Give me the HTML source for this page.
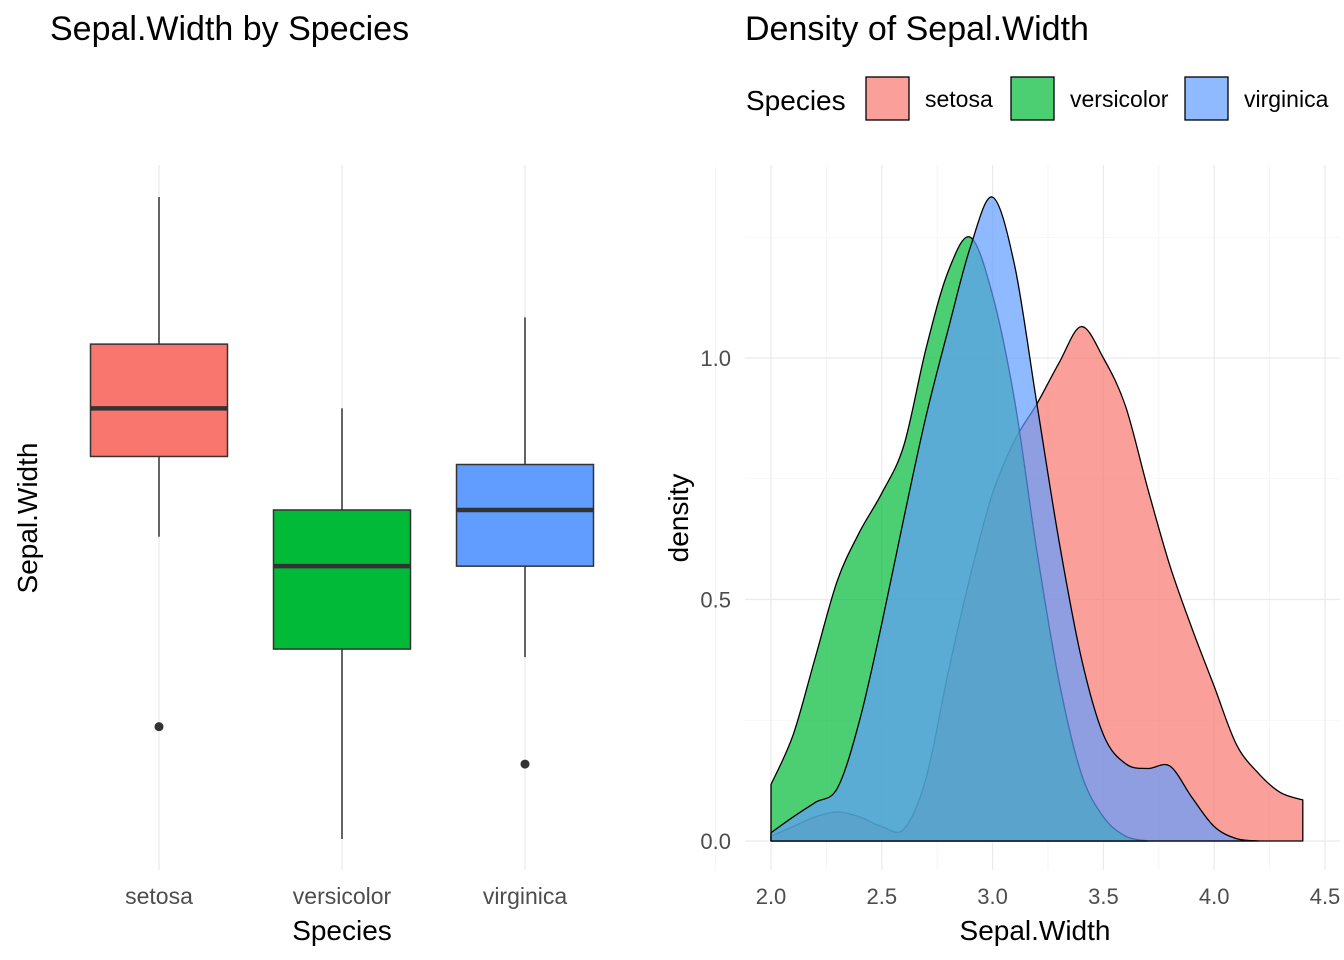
<!DOCTYPE html>
<html><head><meta charset="utf-8"><style>
html,body{margin:0;padding:0;background:#fff;}
svg{display:block;font-family:"Liberation Sans",sans-serif;}
</style></head><body>
<svg id="c" width="1344" height="960"></svg>
<script>
const species = ["setosa","versicolor","virginica"];
const colors = ["#F8766D","#00BA38","#619CFF"];
const whiskerLow = [3.13, 2.0, 2.68];
const q1 = [3.43, 2.71, 3.02];
const medians = [3.61, 3.02, 3.23];
const q3 = [3.85, 3.23, 3.40];
const whiskerHigh = [4.4, 3.61, 3.95];
const outliers = [[2.42],[],[2.28]];
const densX = [2.0,2.1,2.2,2.3,2.4,2.5,2.6,2.7,2.8,2.9,3.0,3.1,3.2,3.3,3.4,3.5,3.6,3.7,3.8,3.9,4.0,4.1,4.2,4.3,4.4];
const densSetosa = [0.01,0.03,0.05,0.06,0.05,0.03,0.025,0.13,0.35,0.55,0.72,0.83,0.905,0.99,1.065,1.0,0.9,0.73,0.57,0.44,0.32,0.2,0.14,0.1,0.085];
const densVersicolor = [0.117,0.22,0.38,0.54,0.64,0.72,0.82,1.02,1.18,1.25,1.13,0.91,0.6,0.33,0.14,0.05,0.01,0,0,0,0,0,0,0,0];
const densVirginica = [0.017,0.05,0.08,0.11,0.25,0.45,0.67,0.88,1.06,1.23,1.333,1.19,0.905,0.62,0.38,0.22,0.16,0.15,0.155,0.09,0.03,0.005,0,0,0];
const xTicks = [2.0,2.5,3.0,3.5,4.0,4.5];
const yTicks = [0.0,0.5,1.0];

const svg = document.getElementById('c');
const NS = "http://www.w3.org/2000/svg";
function mk(tag, attrs, parent, text){
  const e = document.createElementNS(NS, tag);
  for (const k in attrs) e.setAttribute(k, attrs[k]);
  if (text !== undefined) e.textContent = text;
  (parent||svg).appendChild(e); return e;
}
const ly = v => 839 - (v - 2.0) * 267.5;
const lx = i => 159 + i * 183;
for (let i=0;i<3;i++){
  const g = mk('line',{x1:lx(i),x2:lx(i),y1:165,y2:870,stroke:'#ebebeb','stroke-width':1.3});
  
  
}
let t = mk('text',{x:50,y:40,'font-size':34,fill:'#000'},svg,'Sepal.Width by Species');


for (let i=0;i<3;i++){
  const g = mk('g',{});
  
  
  const cx = lx(i);
  mk('line',{x1:cx,x2:cx,y1:ly(whiskerHigh[i]),y2:ly(q3[i]),stroke:'#333','stroke-width':1.5},g);
  mk('line',{x1:cx,x2:cx,y1:ly(q1[i]),y2:ly(whiskerLow[i]),stroke:'#333','stroke-width':1.5},g);
  mk('rect',{x:cx-68.5,y:ly(q3[i]),width:137,height:ly(q1[i])-ly(q3[i]),fill:colors[i],stroke:'#333','stroke-width':1.5},g);
  mk('line',{x1:cx-68.5,x2:cx+68.5,y1:ly(medians[i]),y2:ly(medians[i]),stroke:'#333','stroke-width':4.5},g);
  outliers[i].forEach(o=>mk('circle',{cx:cx,cy:ly(o),r:4.5,fill:'#333'},g));
  const l = mk('text',{x:cx,y:904,'text-anchor':'middle','font-size':23,fill:'#4d4d4d'},svg,species[i]);
  
  
}
t = mk('text',{x:342,y:940,'text-anchor':'middle','font-size':28},svg,'Species');


t = mk('text',{x:37,y:518,'text-anchor':'middle','font-size':28,transform:'rotate(-90 37 518)'},svg,'Sepal.Width');



const rx = v => 771 + (v - 2.0) * 221.6;
const ry = v => 841 - v * 483;
for (let k=7; k<=18; k++){
  const v = k*0.25;
  const major = k%2===0;
  const g = mk('line',{x1:rx(v),x2:rx(v),y1:165,y2:870,stroke:major?'#ebebeb':'#f3f3f3','stroke-width':major?1.3:0.8});
  
  
}
for (let k=0; k<=5; k++){
  const v = k*0.25;
  const major = k%2===0;
  const g = mk('line',{x1:745,x2:1340,y1:ry(v),y2:ry(v),stroke:major?'#ebebeb':'#f3f3f3','stroke-width':major?1.3:0.8});
  
  
}
t = mk('text',{x:745,y:40,'font-size':34},svg,'Density of Sepal.Width');


const series = [densSetosa, densVersicolor, densVirginica];
series.forEach((ys, si)=>{
  let last = ys.length-1;
  while (last>0 && ys[last]===0 && ys[last-1]===0) last--;
  const pts = [];
  for (let i=0;i<=last;i++) pts.push([rx(densX[i]), ry(ys[i])]);
  let d = 'M'+pts[0][0]+','+ry(0)+' L'+pts[0][0].toFixed(1)+','+pts[0][1].toFixed(1);
  for (let i=0;i<pts.length-1;i++){
    const p0 = pts[Math.max(0,i-1)], p1 = pts[i], p2 = pts[i+1], p3 = pts[Math.min(pts.length-1,i+2)];
    const c1x = p1[0]+(p2[0]-p0[0])/6, c1y = Math.min(ry(0), p1[1]+(p2[1]-p0[1])/6);
    const c2x = p2[0]-(p3[0]-p1[0])/6, c2y = Math.min(ry(0), p2[1]-(p3[1]-p1[1])/6);
    d += ' C'+c1x.toFixed(1)+','+c1y.toFixed(1)+' '+c2x.toFixed(1)+','+c2y.toFixed(1)+' '+p2[0].toFixed(1)+','+p2[1].toFixed(1);
  }
  d += ' L'+pts[pts.length-1][0].toFixed(1)+','+ry(0)+' Z';
  const p = mk('path',{d:d,fill:colors[si],'fill-opacity':0.7,stroke:'#000','stroke-width':1.3,'stroke-linejoin':'round'});
  
  
});
xTicks.forEach(v=>{
  const l = mk('text',{x:rx(v),y:904,'text-anchor':'middle','font-size':22,fill:'#4d4d4d'},svg,v.toFixed(1));
  
  
});
yTicks.forEach(v=>{
  const l = mk('text',{x:731,y:ry(v)+8,'text-anchor':'end','font-size':22,fill:'#4d4d4d'},svg,v.toFixed(1));
  
  
});
t = mk('text',{x:1035,y:940,'text-anchor':'middle','font-size':28},svg,'Sepal.Width');


t = mk('text',{x:688,y:518,'text-anchor':'middle','font-size':28,transform:'rotate(-90 688 518)'},svg,'density');


t = mk('text',{x:746,y:110,'font-size':28},svg,'Species');


const legX = [866, 1011, 1185];
species.forEach((s,i)=>{
  const g = mk('g',{});
  
  
  mk('rect',{x:legX[i],y:77,width:43,height:43,fill:colors[i],'fill-opacity':0.7,stroke:'#000','stroke-width':1.3},g);
  mk('text',{x:legX[i]+59,y:107,'font-size':23,fill:'#000'},g,s);
});
</script>
</body></html>
